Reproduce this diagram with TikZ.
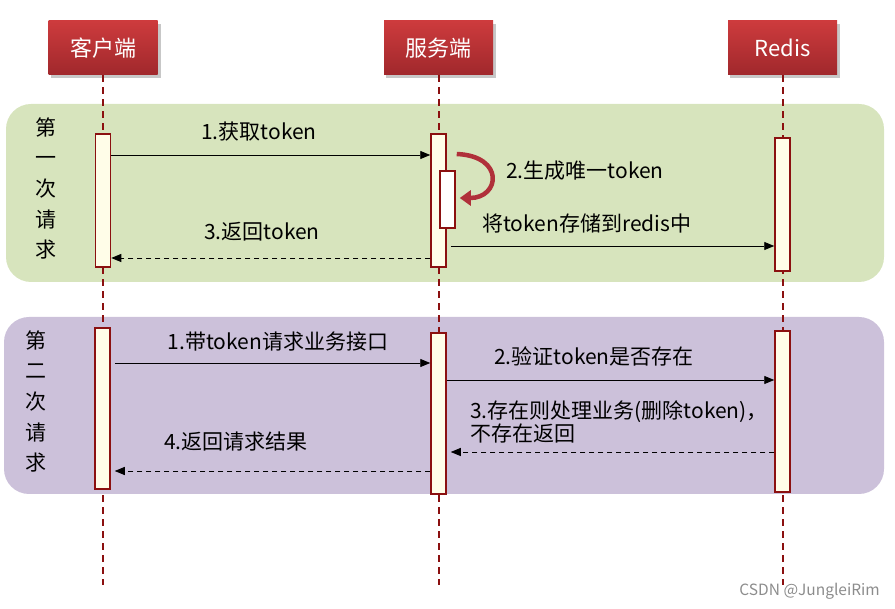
\documentclass[tikz,border=0pt]{standalone}
\usepackage{fontspec}
\setmainfont{Noto Sans CJK SC}
\usetikzlibrary{arrows.meta,calc}
\definecolor{hdrtop}{HTML}{CD3B3D}
\definecolor{hdrbot}{HTML}{A0282C}
\definecolor{lifec}{HTML}{8B1010}
\definecolor{actfill}{HTML}{FFFDE8}
\definecolor{greenp}{HTML}{D7E4BD}
\definecolor{purplep}{HTML}{CCC1DA}
\definecolor{curvred}{HTML}{B0303A}
\begin{document}
\begin{tikzpicture}[x=1pt,y=-1pt,
 header/.style={minimum width=109pt,minimum height=54pt,top color=hdrtop,bottom color=hdrbot,draw=none,text=white,font=\fontsize{22}{22}\selectfont,inner sep=0pt},
 lifeline/.style={draw=lifec,line width=2pt,dash pattern=on 7pt off 5pt},
 act/.style={draw=lifec,fill=actfill,line width=1.5pt,minimum width=15pt,inner sep=0pt},
 msg/.style={-{Triangle[length=10pt,width=8pt]},line width=0.9pt},
 ret/.style={msg,dash pattern=on 5pt off 4pt},
 lbl/.style={font=\fontsize{21}{23}\selectfont,inner sep=0pt},
 vlbl/.style={font=\fontsize{21}{30.7}\selectfont,inner sep=0pt,align=center},
 panel/.style={rounded corners=25pt,draw=none},
 hshadow/.style={fill=black,opacity=0.22},
]
\useasboundingbox (0,0) rectangle (895,609);
% panels
\fill[panel,fill=greenp] (6,104) rectangle (884,282);
\fill[panel,fill=purplep] (4,317) rectangle (884,494);
% header shadows
\fill[hshadow] (51,24) rectangle (161,78);
\fill[hshadow] (386,24) rectangle (496,78);
\fill[hshadow] (730,24) rectangle (840,78);
% headers
\node[header] (client) at (103,48) {客户端};
\node[header] (server) at (438.5,48) {服务端};
\node[header] (redis) at (782.5,48) {Redis};
% lifelines
\coordinate (clientEnd) at (103,585);
\coordinate (serverEnd) at (438.5,585);
\coordinate (redisEnd) at (782.5,585);
\draw[lifeline] (client.south) -- (clientEnd);
\draw[lifeline] (server.south) -- (serverEnd);
\draw[lifeline] (redis.south) -- (redisEnd);
% vertical labels
\node[vlbl] (v1) at (46,188.5) {第\\一\\次\\请\\求};
\node[vlbl] (v2) at (36,401.5) {第\\二\\次\\请\\求};
% activation boxes, first request
\node[act,minimum height=133pt] (c1) at (103,200.5) {};
\node[act,minimum height=133pt] (s1) at (438.5,200.5) {};
\node[act,minimum height=57pt,fill=white] (s1in) at (447.5,199.5) {};
\node[act,minimum height=133pt] (r1) at (782.5,204.5) {};
% activation boxes, second request
\node[act,minimum height=161pt] (c2) at (102.5,408.5) {};
\node[act,minimum height=161pt] (s2) at (438.5,413.5) {};
\node[act,minimum height=161pt] (r2) at (782.5,411.5) {};
% first request messages
\draw[msg] (c1.east |- 0,155) -- (s1.west |- 0,155);
\node[lbl] (m1) at (259,132) {1.获取token};
\draw[curvred,line width=4.5pt,-{Triangle[length=11pt,width=15pt]}]
  ($(s1in.north east |- 0,154)+(1,0)$) .. controls (505,156) and (500,198) .. ($(s1in.east |- 0,198)+(4,0)$);
\node[lbl,anchor=west] (m2) at (506,171) {2.生成唯一token};
\node[lbl,anchor=west] (m2b) at (482,223) {将token存储到redis中};
\draw[msg] ($(s1.east |- 0,246)+(4,0)$) -- (r1.west |- 0,246);
\draw[ret] (s1.west |- 0,258) -- (c1.east |- 0,258);
\node[lbl] (m3) at (262,232) {3.返回token};
% second request messages
\draw[msg] ($(c2.east |- 0,363)+(4,0)$) -- (s2.west |- 0,363);
\node[lbl] (n1) at (278,342) {1.带token请求业务接口};
\draw[msg] (s2.east |- 0,380) -- (r2.west |- 0,380);
\node[lbl,anchor=west] (n2) at (494,356) {2.验证token是否存在};
\draw[ret] (r2.west |- 0,452) -- ($(s2.east |- 0,452)+(4,0)$);
\node[lbl,anchor=west,align=left] (n3) at (470,421.5) {3.存在则处理业务(删除token)，\\不存在返回};
\draw[ret] (s2.west |- 0,471) -- ($(c2.east |- 0,471)+(4,0)$);
\node[lbl] (n4) at (236,442) {4.返回请求结果};
% watermark
\node[font=\fontsize{15.5}{15.5}\selectfont,text=black!45,anchor=east,inner sep=0pt] (wm) at (880,591) {CSDN @JungleiRim};
\end{tikzpicture}
\end{document}
